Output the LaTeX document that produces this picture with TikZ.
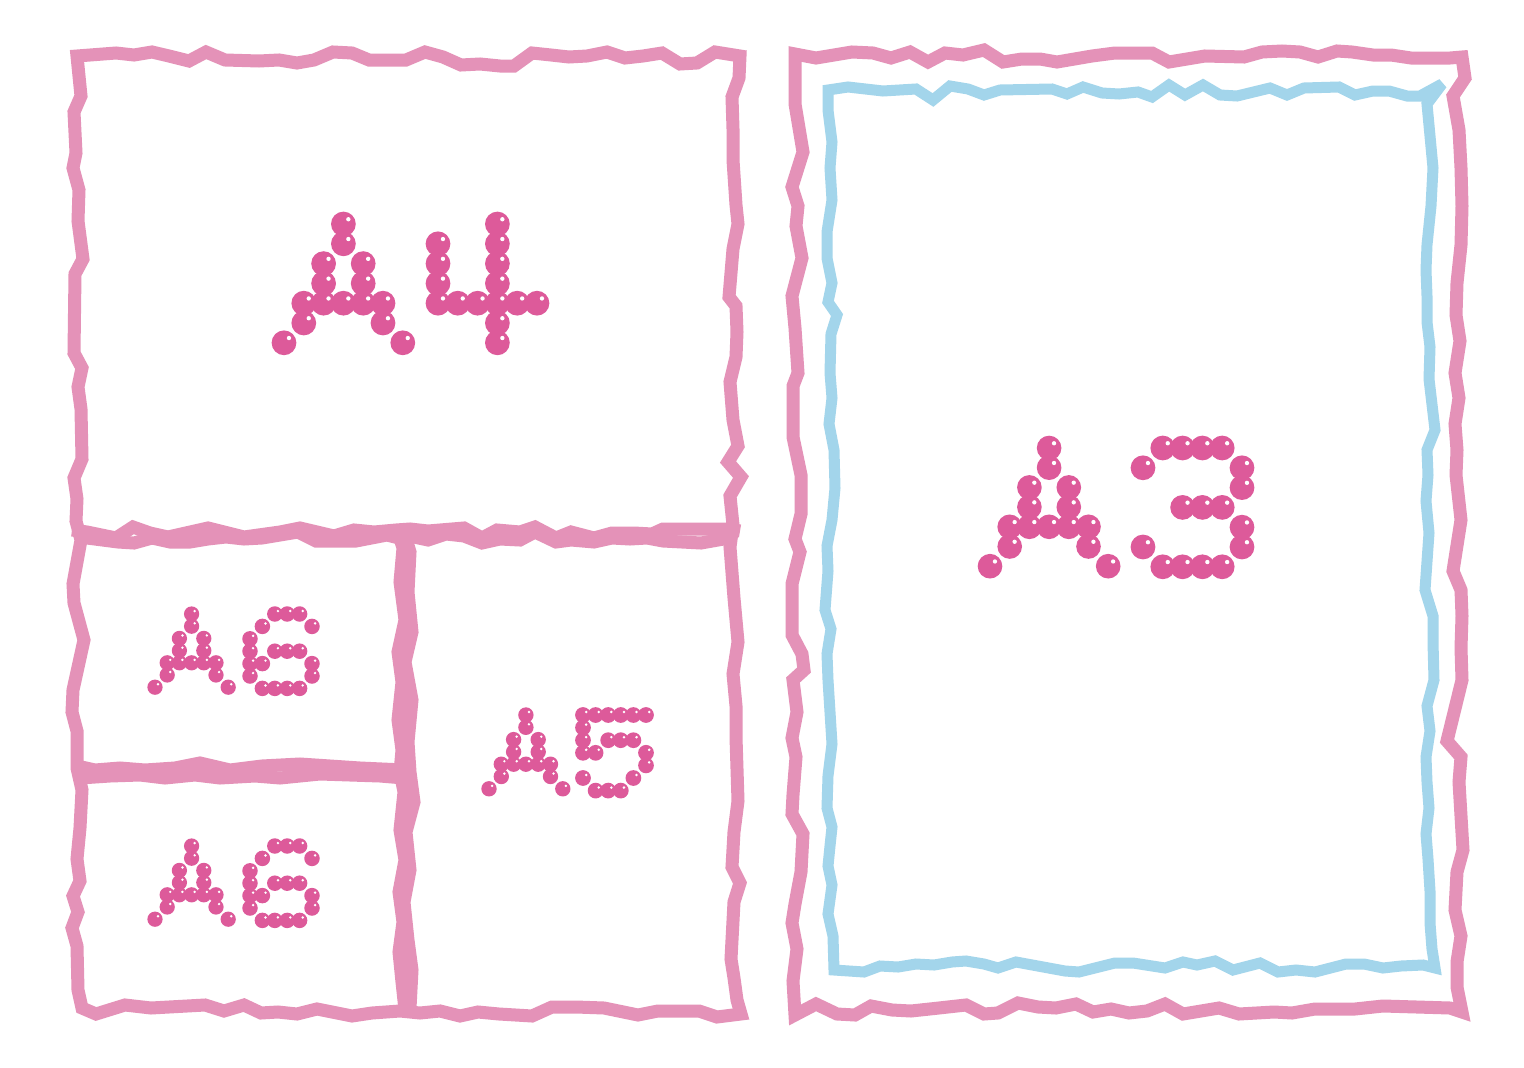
\documentclass[tikz,border=0pt]{standalone}
\usepackage{tikz}
\definecolor{framepink}{HTML}{E492B8}
\definecolor{frameblue}{HTML}{A3D5EB}
\definecolor{dotpink}{HTML}{DD5A9A}
\tikzset{
  pinkline/.style={draw=framepink,line width=13pt,line join=miter,miter limit=2.5,line cap=butt},
  blueline/.style={draw=frameblue,line width=11pt,line join=miter,miter limit=2.5,line cap=butt},
  dotfill/.style={fill=dotpink},
  glint/.style={fill=white}
}
\newcommand\dotword[4]{%
  \begin{scope}[shift={(#1,#2)},scale=#3]
    \foreach \c/\r in #4 {\fill[dotfill] (\c,\r) circle[radius=0.625];}
    \foreach \c/\r in #4 {\fill[glint] (\c+0.25,\r-0.24) circle[radius=0.11];}
  \end{scope}}
\newcommand\patA{3/0,3/1,2/2,4/2,2/3,4/3,1/4,2/4,3/4,4/4,5/4,1/5,5/5,0/6,6/6}
\newcommand\patFour{0/1,0/2,0/3,0/4,1/4,2/4,3/0,3/1,3/2,3/3,3/4,3/5,3/6,4/4,5/4}
\newcommand\patThree{1/0,2/0,3/0,4/0,0/1,5/1,5/2,2/3,3/3,4/3,5/4,0/5,5/5,1/6,2/6,3/6,4/6}
\newcommand\patFive{0/0,1/0,2/0,3/0,4/0,5/0,0/1,0/2,2/2,3/2,4/2,0/3,1/3,5/3,5/4,0/5,4/5,1/6,2/6,3/6}
\newcommand\patSix{2/0,3/0,4/0,1/1,5/1,0/2,0/3,2/3,3/3,4/3,0/4,1/4,5/4,0/5,5/5,1/6,2/6,3/6,4/6}
\begin{document}
\begin{tikzpicture}[x=1pt,y=-1pt]
\useasboundingbox (0,0) rectangle (1524,1068);
\fill[white] (0,0) rectangle (1524,1068);

% ---------- left frame (A4 / A5 / A6) ----------
\draw[pinkline] (77,56) -- (116,53) -- (134,55) -- (152,52) -- (169,56) -- (189,61) -- (206,52) -- (225,60) -- (259,61) -- (279,60) -- (297,63) -- (314,60) -- (333,52) -- (352,53) -- (369,60) -- (406,60) -- (425,52) -- (443,57) -- (461,65) -- (480,64) -- (500,66) -- (514,66) -- (532,53) -- (551,55) -- (569,57) -- (587,56) -- (607,52) -- (625,58) -- (643,56) -- (662,53) -- (680,64) -- (697,63) -- (715,52) -- (740,56)
 -- (739,78) -- (732,97) -- (733,129) -- (733,160) -- (736,205) -- (738,224) -- (733,249) -- (729,297) -- (736,306) -- (737,332) -- (736,357) -- (730,382) -- (733,420) -- (738,446) -- (728,462) -- (741,477) -- (730,496) -- (733,525) -- (730,547) -- (734,598) -- (738,642) -- (733,674) -- (736,706) -- (736,737) -- (738,801) -- (734,832) -- (732,867) -- (740,883) -- (734,902) -- (731,959) -- (734,978) -- (737,1000) -- (741,1014)
 -- (717,1017) -- (699,1011) -- (658,1011) -- (638,1015) -- (604,1008) -- (576,1007) -- (552,1007) -- (532,1016) -- (499,1014) -- (478,1012) -- (460,1016) -- (440,1011) -- (420,1013) -- (400,1011) -- (372,1013) -- (352,1016) -- (317,1009) -- (297,1014) -- (278,1012) -- (261,1013) -- (244,1005) -- (224,1011) -- (205,1005) -- (151,1008) -- (125,1005) -- (96,1014) -- (82,1008)
 -- (78,990) -- (77,946) -- (72,928) -- (78,912) -- (73,896) -- (80,881) -- (77,859) -- (80,828) -- (82,790) -- (77,768) -- (77,731) -- (72,712) -- (73,690) -- (84,640) -- (74,603) -- (73,584) -- (81,540) -- (76,521) -- (77,499) -- (74,478) -- (82,459) -- (81,409) -- (78,387) -- (82,368) -- (74,353) -- (75,274) -- (83,259) -- (78,221) -- (79,190) -- (73,168) -- (76,153) -- (74,112) -- (81,96) -- cycle;

% horizontal divider under A4 (two overlapping strokes)
\draw[pinkline] (72,530) -- (87,532) -- (116,538) -- (133,527) -- (150,533) -- (168,537) -- (208,528) -- (244,537) -- (280,532) -- (300,528) -- (334,536) -- (354,530) -- (374,532) -- (396,530) -- (410,529) -- (428,531) -- (464,528) -- (482,538) -- (497,530) -- (520,532) -- (535,527) -- (556,538) -- (571,532) -- (594,538) -- (612,533) -- (634,533) -- (652,534) -- (663,529) -- (728,529) -- (740,531);
\draw[pinkline] (78,538) -- (87,538) -- (118,542) -- (134,543) -- (152,538) -- (170,542) -- (190,542) -- (208,539) -- (226,537) -- (244,539) -- (262,538) -- (298,532) -- (316,541) -- (356,541) -- (387,535) -- (399,538) -- (414,537) -- (428,540) -- (446,534) -- (464,536) -- (482,543) -- (500,539) -- (520,540) -- (535,532) -- (556,542) -- (571,540) -- (594,542) -- (612,538) -- (630,539) -- (647,538) -- (663,541) -- (701,543) -- (735,537);

% vertical divider between A6 and A5
\draw[pinkline] (398,532) -- (403,548) -- (400,582) -- (405,620) -- (398,652) -- (402,682) -- (398,720) -- (402,750) -- (400,772) -- (404,792) -- (400,830) -- (405,860) -- (399,892) -- (403,922) -- (399,952) -- (402,982) -- (405,1010);
\draw[pinkline] (404,532) -- (410,552) -- (408,592) -- (412,632) -- (405,662) -- (412,700) -- (408,742) -- (410,772) -- (414,802) -- (406,832) -- (410,870) -- (404,902) -- (408,940) -- (412,970) -- (410,1008);

% horizontal divider between the two A6
\draw[pinkline] (77,766) -- (95,770) -- (120,768) -- (145,770) -- (175,768) -- (200,763) -- (230,770) -- (262,766) -- (300,764) -- (330,766) -- (360,768) -- (404,770);
\draw[pinkline] (80,778) -- (110,776) -- (140,775) -- (165,778) -- (195,775) -- (220,778) -- (255,776) -- (280,778) -- (320,774) -- (350,775) -- (380,776) -- (404,778);

% ---------- right frame (A3) ----------
\draw[pinkline] (795,54) -- (816,58) -- (852,52) -- (873,53) -- (891,58) -- (910,52) -- (928,62) -- (945,53) -- (963,55) -- (984,50) -- (1003,62) -- (1022,59) -- (1040,59) -- (1057,62) -- (1092,56) -- (1115,53) -- (1152,53) -- (1169,62) -- (1205,56) -- (1244,57) -- (1262,52) -- (1282,51) -- (1300,52) -- (1318,57) -- (1337,51) -- (1352,52) -- (1373,55) -- (1391,55) -- (1411,58) -- (1429,58) -- (1450,58) -- (1462,57)
 -- (1465,78) -- (1453,96) -- (1459,130) -- (1461,168) -- (1462,206) -- (1461,245) -- (1457,283) -- (1456,315) -- (1460,341) -- (1455,373) -- (1459,398) -- (1455,424) -- (1457,450) -- (1456,475) -- (1461,520) -- (1453,571) -- (1461,590) -- (1462,616) -- (1461,648) -- (1462,680) -- (1447,741) -- (1461,757) -- (1459,782) -- (1463,850) -- (1457,872) -- (1455,910) -- (1461,936) -- (1457,962) -- (1457,987) -- (1462,1012)
 -- (1450,1008) -- (1383,1006) -- (1355,1009) -- (1315,1009) -- (1292,1013) -- (1274,1012) -- (1239,1014) -- (1219,1008) -- (1183,1014) -- (1165,1004) -- (1147,1011) -- (1129,1013) -- (1111,1009) -- (1093,1012) -- (1076,1004) -- (1056,1008) -- (1038,1007) -- (1018,1003) -- (998,1013) -- (984,1014) -- (966,1005) -- (939,1008) -- (911,1011) -- (892,1010) -- (871,1006) -- (855,1015) -- (837,1014) -- (816,1004) -- (795,1015)
 -- (793,981) -- (797,949) -- (792,923) -- (795,904) -- (801,872) -- (803,834) -- (792,814) -- (793,795) -- (796,757) -- (792,738) -- (797,712) -- (793,680) -- (804,670) -- (802,654) -- (792,635) -- (792,584) -- (800,552) -- (795,539) -- (801,514) -- (801,475) -- (793,437) -- (793,386) -- (798,373) -- (795,328) -- (792,296) -- (802,258) -- (796,226) -- (798,206) -- (792,187) -- (803,152) -- (795,104) -- cycle;

\draw[blueline] (828,90) -- (848,87) -- (883,91) -- (916,89) -- (933,100) -- (950,86) -- (968,89) -- (984,95) -- (1000,90) -- (1052,89) -- (1067,94) -- (1083,87) -- (1102,93) -- (1119,94) -- (1138,92) -- (1152,97) -- (1169,85) -- (1185,95) -- (1203,85) -- (1220,95) -- (1237,96) -- (1270,88) -- (1287,95) -- (1304,88) -- (1339,87) -- (1355,95) -- (1373,91) -- (1389,91) -- (1407,96) -- (1420,96) -- (1442,84)
 -- (1427,104) -- (1430,136) -- (1433,168) -- (1431,206) -- (1427,245) -- (1426,270) -- (1427,296) -- (1427,322) -- (1430,347) -- (1429,379) -- (1435,430) -- (1427,450) -- (1428,475) -- (1426,501) -- (1429,533) -- (1425,590) -- (1433,616) -- (1433,642) -- (1434,680) -- (1427,706) -- (1430,731) -- (1426,757) -- (1427,782) -- (1429,808) -- (1426,834) -- (1428,859) -- (1430,891) -- (1430,923) -- (1432,949) -- (1435,968)
 -- (1423,965) -- (1401,966) -- (1383,968) -- (1364,964) -- (1346,964) -- (1315,972) -- (1296,970) -- (1278,972) -- (1260,963) -- (1233,970) -- (1215,961) -- (1197,965) -- (1183,962) -- (1165,968) -- (1133,963) -- (1115,963) -- (1079,972) -- (1065,971) -- (1016,962) -- (998,968) -- (984,964) -- (966,961) -- (952,962) -- (934,965) -- (916,964) -- (898,967) -- (880,966) -- (864,972) -- (834,970)
 -- (833,936) -- (828,914) -- (832,885) -- (828,866) -- (830,846) -- (832,827) -- (827,808) -- (828,776) -- (832,744) -- (830,712) -- (828,680) -- (827,654) -- (831,629) -- (825,610) -- (828,571) -- (827,546) -- (832,520) -- (835,488) -- (834,450) -- (829,424) -- (832,398) -- (830,373) -- (831,334) -- (837,315) -- (828,302) -- (832,283) -- (827,258) -- (827,232) -- (832,200) -- (830,168) -- (832,142) -- (828,110) -- cycle;

% ---------- dotted labels ----------
\dotword{284}{224}{19.8}{\patA}
\dotword{438}{224}{19.8}{\patFour}
\dotword{990}{448}{19.7}{\patA}
\dotword{1143}{448}{19.8}{\patThree}
\dotword{489}{715}{12.3}{\patA}
\dotword{583}{715}{12.6}{\patFive}
\dotword{155}{614}{12.2}{\patA}
\dotword{250}{614}{12.4}{\patSix}
\dotword{155}{846}{12.2}{\patA}
\dotword{250}{846}{12.4}{\patSix}
\end{tikzpicture}
\end{document}
